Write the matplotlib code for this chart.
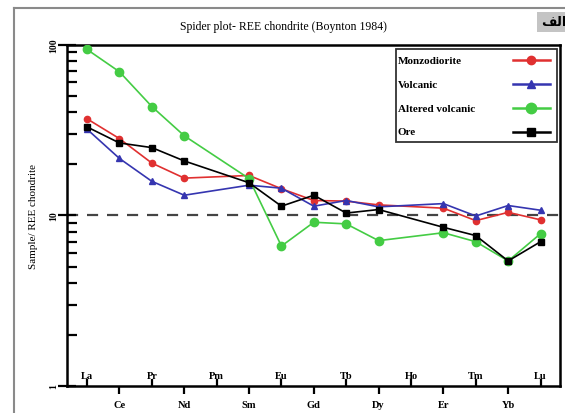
import numpy as np
import matplotlib
matplotlib.use("Agg")
import matplotlib.pyplot as plt
from matplotlib.ticker import NullFormatter, LogLocator
from matplotlib.patches import Rectangle
from matplotlib.lines import Line2D

plt.rcParams['font.family'] = ['Liberation Serif', 'DejaVu Sans']

# REE order on the x axis (Pm and Ho are not measured)
elements = ['La', 'Ce', 'Pr', 'Nd', 'Pm', 'Sm', 'Eu', 'Gd',
            'Tb', 'Dy', 'Ho', 'Er', 'Tm', 'Yb', 'Lu']
measured = ['La', 'Ce', 'Pr', 'Nd', 'Sm', 'Eu', 'Gd',
            'Tb', 'Dy', 'Er', 'Tm', 'Yb', 'Lu']

monzodiorite = [36.7, 28.1, 20.2, 16.5, 17.1, 14.3, 12.2, 12.1, 11.5, 11.0, 9.3, 10.4, 9.4]
volcanic = [31.9, 21.5, 15.8, 13.1, 15.0, 14.4, 11.3, 12.2, 11.2, 11.7, 9.9, 11.4, 10.7]
altered_volcanic = [93.5, 69.2, 43.3, 29.2, 16.4, 6.6, 9.1, 8.9, 7.1, 7.9, 7.0, 5.4, 7.8]
ore = [32.9, 26.5, 24.9, 20.8, 15.5, 11.3, 13.1, 10.3, 10.8, 8.5, 7.6, 5.4, 7.0]

series = [
    ('Monzodiorite', monzodiorite, '#e03030', 'o', 4.5),
    ('Volcanic', volcanic, '#3535b0', '^', 4.5),
    ('Altered volcanic', altered_volcanic, '#44cc44', 'o', 6),
    ('Ore', ore, 'black', 's', 4.5),
]

xpos = [elements.index(e) for e in measured]

fig = plt.figure(figsize=(5.65, 4.14), dpi=100)
ax = fig.add_axes([67/565, 1 - 387/414, 493/565, 341.5/414])

for name, vals, col, mk, ms in series:
    ax.plot(xpos, vals, color=col, marker=mk, markersize=ms, lw=1.2,
            markeredgecolor=col, zorder=3)

ax.axhline(10, color='#444444', lw=1.6, ls=(0, (5, 4)), zorder=1)

ax.set_yscale('log')
ax.set_ylim(1, 100)
ax.set_xlim(-0.62, 14.6)

# y axis
ax.set_yticks([1, 10, 100], ['1', '10', '100'], rotation=90, va='center',
              fontweight='bold', fontsize=7)
ax.yaxis.set_minor_locator(LogLocator(base=10, subs=np.arange(2, 10)))
ax.yaxis.set_minor_formatter(NullFormatter())
ax.tick_params(axis='y', which='major', direction='inout', length=13, width=1.6, pad=0)
ax.tick_params(axis='y', which='minor', direction='in', length=7, width=1.6)
ax.set_ylabel('Sample/ REE chondrite', fontsize=8, labelpad=8)

# x axis: alternate labels inside / outside
even = list(range(0, len(elements), 2))
odd = list(range(1, len(elements), 2))
ax.set_xticks(even, [elements[i] for i in even], va='bottom',
              fontweight='bold', fontsize=7.5)
ax.set_xticks(odd, [elements[i] for i in odd], minor=True,
              fontweight='bold', fontsize=7.5)
ax.tick_params(axis='x', which='major', direction='in', length=5, width=1.6, pad=-4)
ax.tick_params(axis='x', which='minor', direction='out', length=6, width=1.6, pad=4)

for s in ax.spines.values():
    s.set_linewidth(1.8)

# legend box drawn by hand: labels left, symbols right
ax.add_patch(Rectangle((0.667, 0.7145), 0.327, 0.2725, transform=ax.transAxes,
                       facecolor='white', edgecolor='#333333', lw=1.3, zorder=4))
rows = [0.954, 0.884, 0.814, 0.744]
for (name, vals, col, mk, ms), ry in zip(series, rows):
    ax.text(0.671, ry, name, transform=ax.transAxes, fontsize=8,
            fontweight='bold', va='center', ha='left', zorder=5)
    ax.add_line(Line2D([0.905, 0.942, 0.98], [ry, ry, ry], transform=ax.transAxes,
                       color=col, lw=1.8, marker=mk, markersize=ms + 1.5,
                       markevery=[1], zorder=5))

fig.text(283/565, 1 - 27/414, 'Spider plot- REE chondrite (Boynton 1984)',
         ha='center', va='center', fontsize=8.5)

# outer frame of the figure panel
fig.add_artist(Line2D([14/565, 14/565], [0, 1 - 9/414], color='#8a8a8a', lw=1.5))
fig.add_artist(Line2D([14/565, 1], [1 - 9/414, 1 - 9/414], color='#8a8a8a', lw=1.5))

# panel letter (Persian "الف"), shaped forms in visual order
fig.text(566/565, 1 - 23/414, '\ufed2\ufedf\ufe8d', ha='right', va='center',
         fontsize=9.5, fontweight='bold', family=['DejaVu Sans'],
         bbox=dict(boxstyle='square,pad=0.3', facecolor='#c4c4c4', edgecolor='none'))

fig.savefig('out.png', dpi=100)
